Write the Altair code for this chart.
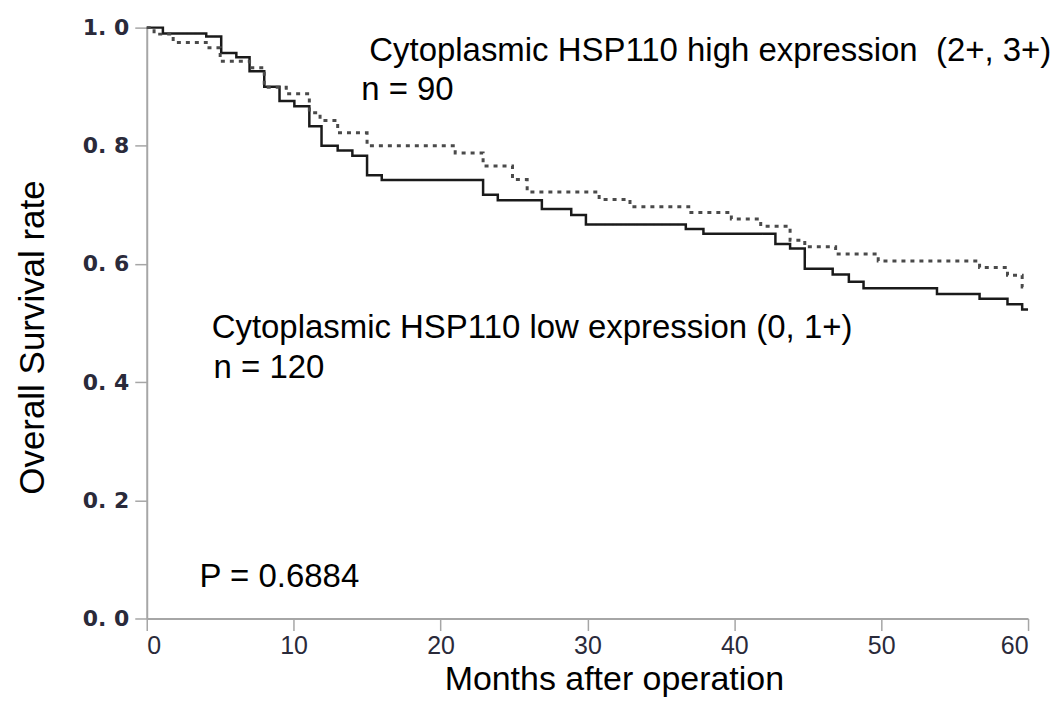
import altair as alt
import pandas as pd

# Low expression (solid) Kaplan-Meier steps
low_t = [0, 1.1, 4.05, 5.07, 6.1, 7.0, 8.0, 9.04, 10.05, 11.07, 11.9, 13.0, 14.0, 15.0, 16.0,
         22.9, 23.9, 26.9, 28.9, 29.9, 36.7, 37.9, 42.8, 43.8, 44.8, 46.7, 47.8, 48.8, 53.8,
         56.7, 58.6, 59.6, 60]
low_s = [1.0, 0.99, 0.985, 0.957, 0.95, 0.926, 0.90, 0.876, 0.867, 0.833, 0.80, 0.792, 0.783,
         0.75, 0.742, 0.717, 0.708, 0.693, 0.683, 0.667, 0.659, 0.651, 0.634, 0.626, 0.592,
         0.582, 0.570, 0.559, 0.549, 0.541, 0.532, 0.523, 0.523]

# High expression (dotted) Kaplan-Meier steps
high_t = [0, 0.5, 1.8, 4.05, 5.0, 7.0, 8.0, 9.5, 11.07, 11.8, 13.0, 15.0, 21.0, 22.9, 24.9,
          25.9, 30.8, 32.9, 36.9, 39.8, 41.8, 43.8, 44.8, 46.9, 49.8, 56.7, 58.6, 59.6, 60]
high_s = [1.0, 0.989, 0.975, 0.966, 0.943, 0.932, 0.899, 0.888, 0.856, 0.843, 0.822, 0.80,
          0.788, 0.766, 0.743, 0.722, 0.709, 0.697, 0.687, 0.676, 0.664, 0.640, 0.629, 0.617,
          0.605, 0.594, 0.581, 0.561, 0.561]

# Annotations
ann_text = ["Cytoplasmic HSP110 high expression\u00a0 (2+, 3+)", "n = 90",
            "Cytoplasmic HSP110 low expression (0, 1+)", "n = 120", "P = 0.6884"]
ann_x = [15.15, 14.6, 4.42, 4.55, 3.6]
ann_y = [0.961, 0.894, 0.4916, 0.424, 0.071]

x_ticks = [0, 10, 20, 30, 40, 50, 60]
y_ticks = [0.0, 0.2, 0.4, 0.6, 0.8, 1.0]

curves = pd.concat([
    pd.DataFrame({"month": low_t, "surv": low_s, "group": "low"}),
    pd.DataFrame({"month": high_t, "surv": high_s, "group": "high"}),
])
ann = pd.DataFrame({"text": ann_text, "month": ann_x, "surv": ann_y})

FONT = "Liberation Sans, Arial"

x_enc = alt.X("month:Q", scale=alt.Scale(domain=[0, 60], nice=False),
              axis=alt.Axis(values=x_ticks, title="Months after operation", format="d", titleX=468))
y_enc = alt.Y("surv:Q", scale=alt.Scale(domain=[0, 1], nice=False),
              axis=alt.Axis(values=y_ticks, title="Overall Survival rate", titleY=310,
                            labelExpr="replace(format(datum.value, '.1f'), '.', '. ')"))

lines = alt.Chart(curves).mark_line(interpolate="step-after").encode(
    x=x_enc, y=y_enc,
    color=alt.Color("group:N", scale=alt.Scale(domain=["low", "high"], range=["#1a1a1a", "#4a4a4a"]), legend=None),
    strokeDash=alt.StrokeDash("group:N", scale=alt.Scale(domain=["low", "high"], range=[[1, 0], [4, 5]]), legend=None),
    strokeWidth=alt.StrokeWidth("group:N", scale=alt.Scale(domain=["low", "high"], range=[2.5, 3]), legend=None),
)

texts = alt.Chart(ann).mark_text(align="left", baseline="middle", font=FONT, fontSize=33, color="#000").encode(
    x="month:Q", y="surv:Q", text="text:N")

chart = alt.layer(lines, texts).properties(
    width=883, height=592,
    autosize=alt.AutoSizeParams(type="none"),
    padding={"left": 139, "top": 19, "right": 24, "bottom": 80},
).configure_view(stroke=None).configure_axis(
    grid=False, domainColor="#a6a6a6", domainWidth=2, tickColor="#a6a6a6", tickWidth=1.5, tickSize=12,
    titleFont=FONT, titleFontWeight="normal", titleColor="#000",
).configure_axisY(
    labelFont="DejaVu Sans", labelFontSize=22, labelFontWeight="bold", labelColor="#2a2a3a",
    labelPadding=6, titlePadding=32, titleFontSize=35,
).configure_axisX(
    labelFont=FONT, labelFontSize=25, labelColor="#2a2a3a", labelPadding=3, titlePadding=4,
    titleFontSize=34,
)

chart.save("out.html", embed_options={"renderer": "svg", "actions": False})
